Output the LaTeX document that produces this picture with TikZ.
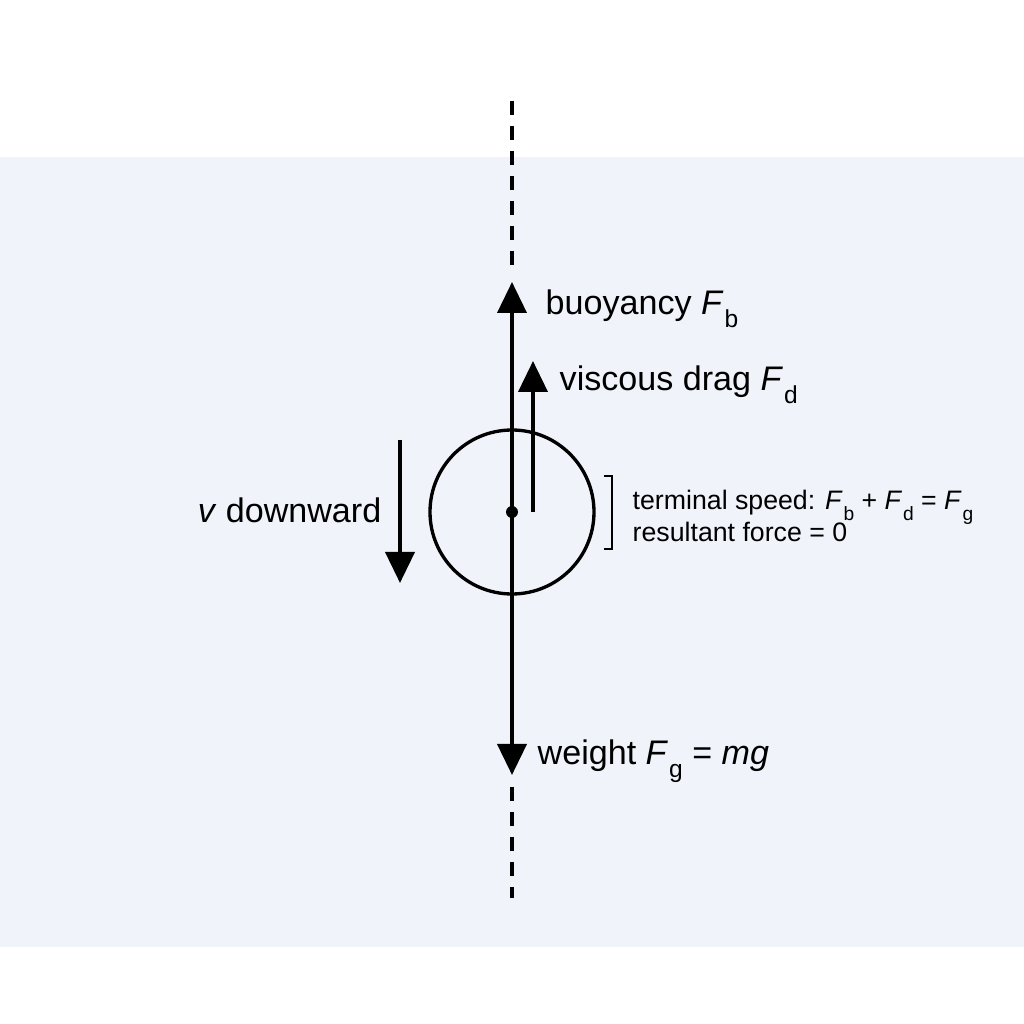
\documentclass[tikz,border=0pt]{standalone}
\usepackage{fontspec}
\setmainfont{Liberation Sans}
\usetikzlibrary{arrows.meta}
\definecolor{fluid}{RGB}{240,244,250}
\newcommand{\Fsub}[1]{\textit{F}\kern0.03em\raisebox{-0.38em}{\scalebox{0.72}{#1}}}
\begin{document}
\begin{tikzpicture}[
    force/.style={line width=1.1pt,-{Triangle[length=0.31cm,width=0.29cm]}},
    axisline/.style={line width=1pt,dash pattern=on 0.14cm off 0.11cm},
    lbl/.style={inner sep=0pt,anchor=base west,font=\fontsize{9.7}{12}\selectfont},
    note/.style={inner sep=0pt,anchor=base west,font=\fontsize{7.6}{9}\selectfont},
    ball/.style={draw,circle,line width=0.95pt,minimum size=1.64cm,inner sep=0pt},
    dot/.style={fill,circle,minimum size=0.12cm,inner sep=0pt}]

%draws background and fluid
\fill[white] (0,0) rectangle (10.24,10.24);
\useasboundingbox (0,0) rectangle (10.24,10.24);
\fill[fluid] (0,0.77) rectangle (10.24,8.67);

%sphere and centre
\node[ball] (ball) at (5.12,5.12) {};
\node[dot] (ctr) at (5.12,5.12) {};

%arrow ends
\coordinate (btip) at (5.12,7.42);
\coordinate (gtip) at (5.12,2.49);
\coordinate (dbase) at (5.33,5.12);
\coordinate (dtip) at (5.33,6.63);
\coordinate (vtop) at (4.00,5.84);
\coordinate (vtip) at (4.00,4.41);

%dashed line of action
\coordinate (atop) at (5.12,9.23);
\coordinate (atopend) at (5.12,7.57);
\coordinate (abot) at (5.12,2.37);
\coordinate (abotend) at (5.12,1.26);
\draw[axisline] (atop) -- (atopend);
\draw[axisline] (abot) -- (abotend);

%draw forces
\draw[force] (ctr.center) -- (btip);
\draw[force] (ctr.center) -- (gtip);
\draw[force] (dbase) -- (dtip);
\draw[force] (vtop) -- (vtip);

%label forces
\node[lbl] (blbl) at (5.45,7.09) {buoyancy \Fsub{b}};
\node[lbl] (dlbl) at (5.59,6.33) {viscous drag \Fsub{d}};
\node[lbl] (glbl) at (5.37,2.59) {weight \Fsub{g} = \textit{mg}};
\node[lbl,anchor=base east] (vlbl) at (3.82,5.01) {\textit{v} downward};

%terminal speed note
\draw[line width=0.5pt] (6.04,5.48) -- (6.12,5.48) -- (6.12,4.75) -- (6.04,4.75);
\node[note] (term1) at (6.32,5.14) {terminal speed: \Fsub{b} + \Fsub{d} = \Fsub{g}};
\node[note] (term2) at (6.32,4.82) {resultant force = 0};
\end{tikzpicture}
\end{document}
